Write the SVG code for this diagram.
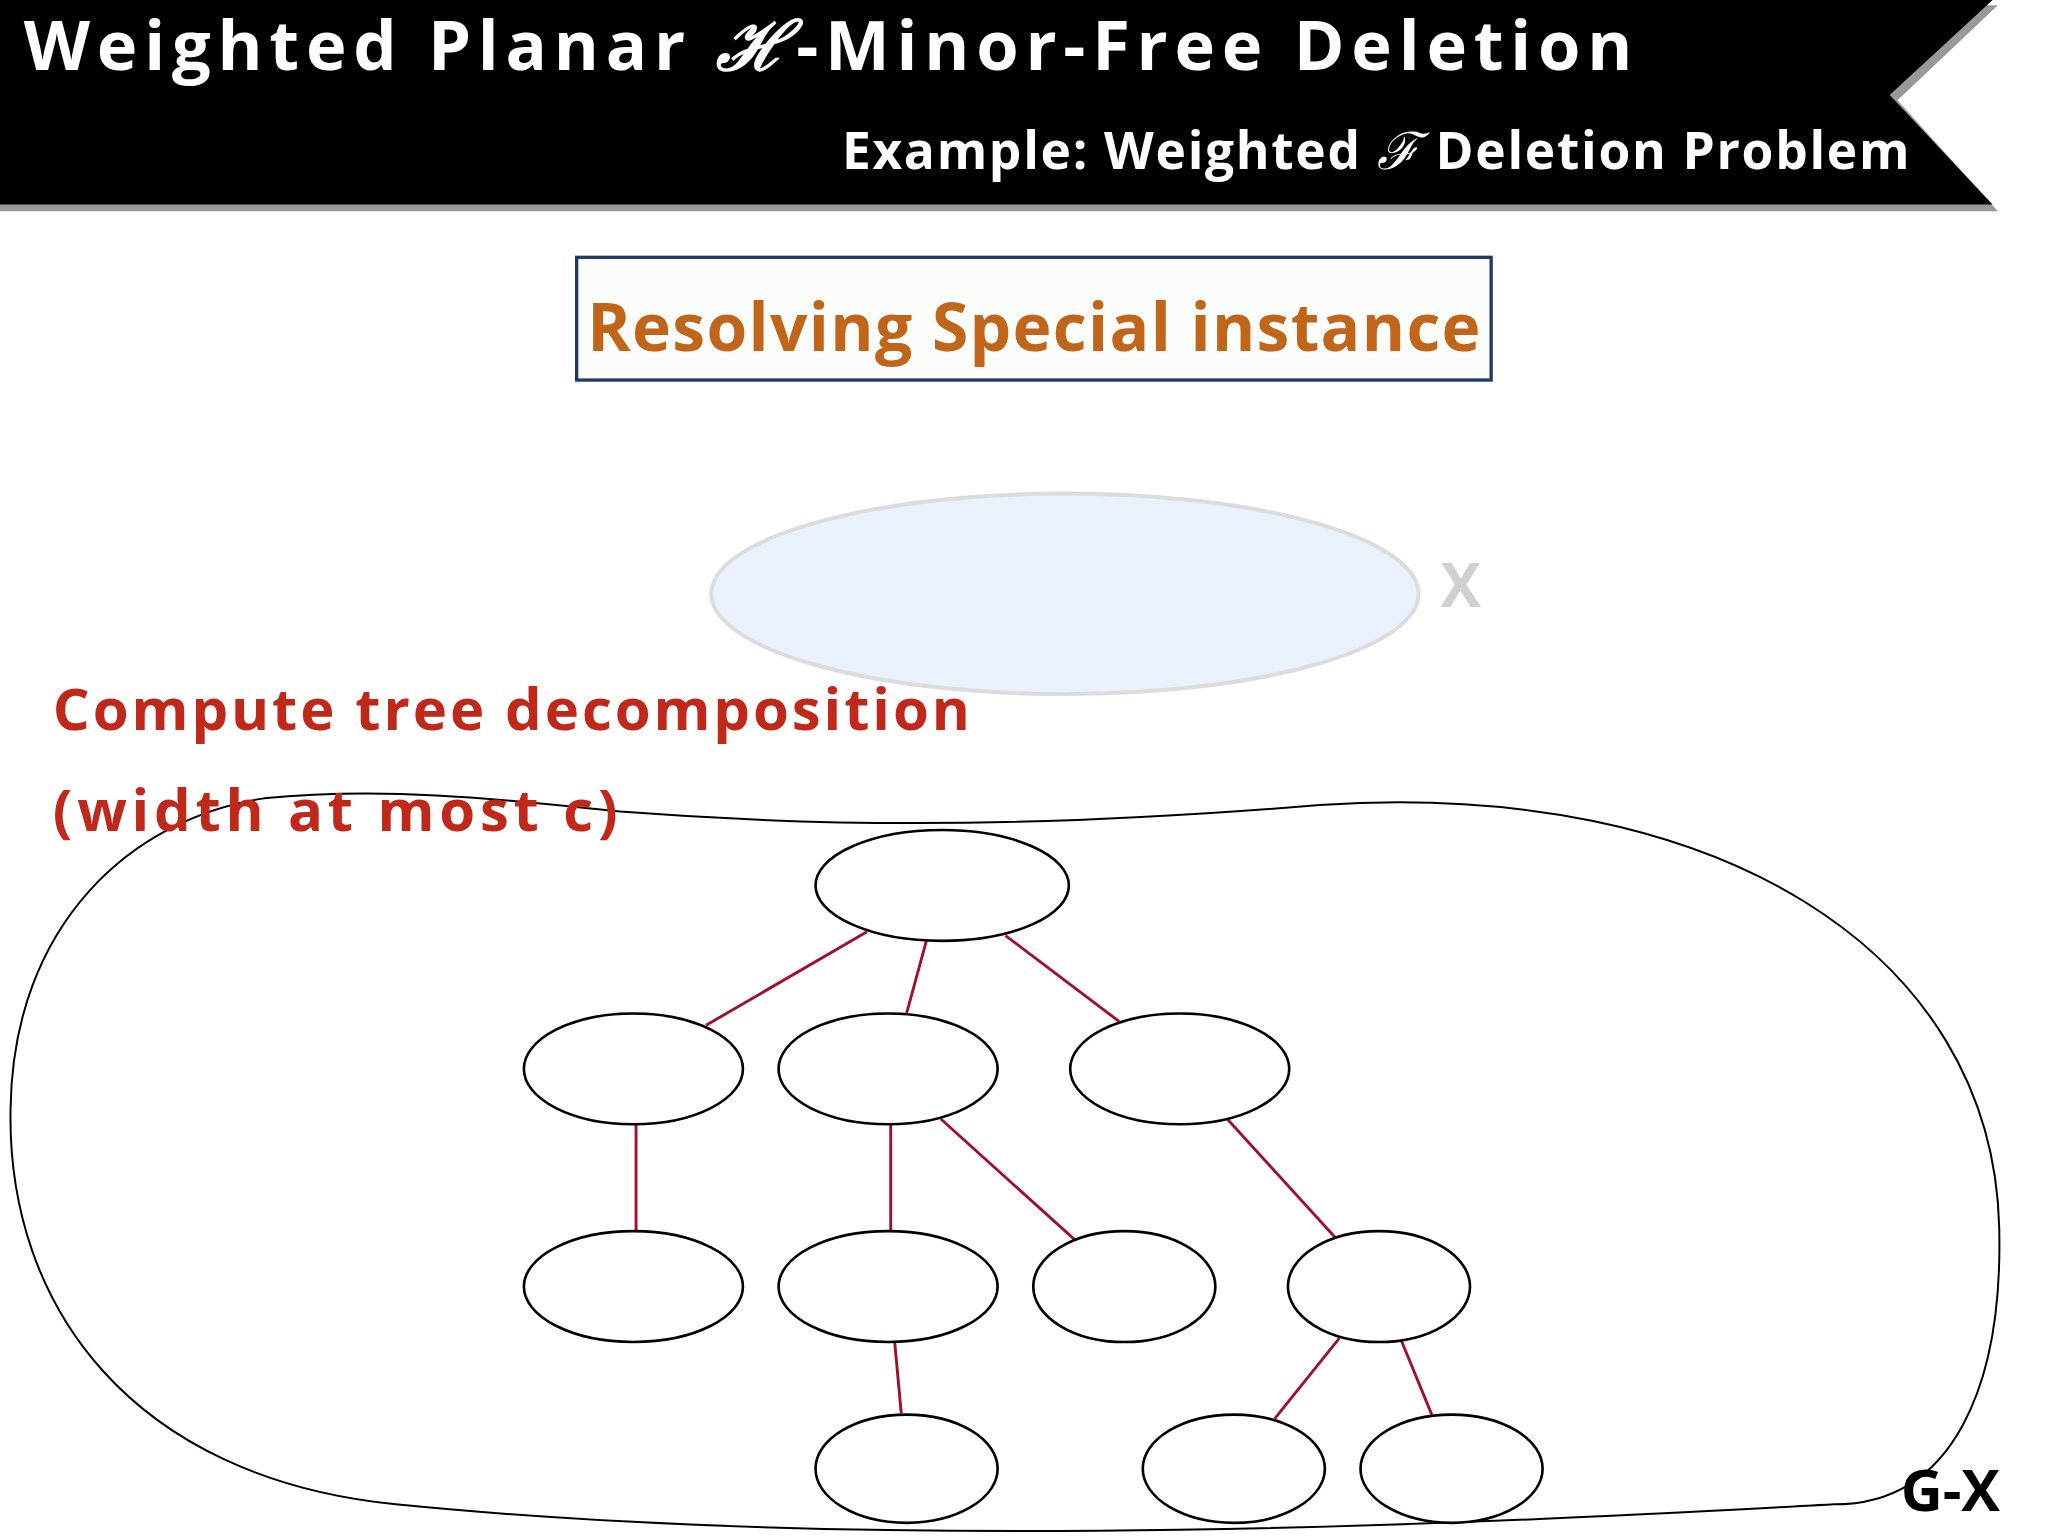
<svg xmlns="http://www.w3.org/2000/svg" width="2048" height="1536" viewBox="0 0 2048 1536">
<style>
.node{fill:#fff;stroke:#000;stroke-width:2}
.edge{stroke:#a0102a;stroke-width:2.2}
.t{font-family:"Open Sans","DejaVu Sans",sans-serif;font-weight:bold}
</style>
<rect width="2048" height="1536" fill="#fff"/>
<g transform="scale(1.3196)">
<g id="banner">
<polygon points="0,4 1514,4 1438,76 1514,160 0,160" fill="#999"/>
<polygon points="0,0 1510,0 1432,72 1510,155 0,155" fill="#000"/>
<text class="t" x="18" y="53" font-size="52" fill="#fff" textLength="1219" lengthAdjust="spacing">Weighted Planar <tspan font-family="Liberation Serif,serif" font-style="italic">ℋ</tspan>-Minor-Free Deletion</text>
<text class="t" x="638" y="128" font-size="39" fill="#fff" textLength="809" lengthAdjust="spacing">Example: Weighted <tspan font-family="Liberation Serif,serif" font-style="italic" font-weight="normal">ℱ</tspan> Deletion Problem</text>
</g>
<g id="box">
<rect x="437" y="195" width="693" height="93" fill="#fbfdfb" stroke="#1f3864" stroke-width="2.5"/>
<text class="t" x="445" y="266" font-size="50" fill="#c0651a" textLength="677" lengthAdjust="spacing">Resolving Special instance</text>
</g>
<g id="X">
<ellipse cx="807" cy="450" rx="268" ry="76" fill="#e8f1fc" stroke="#dcdcdc" stroke-width="3"/>
<text class="t" x="1107" y="460" font-size="46" fill="#d0d0d0" text-anchor="middle">X</text>
</g>
<g id="GX">
<path d="M470,615 C600,625 760,630 1000,610 C1300,590 1510,720 1515,930 C1518,1050 1480,1140 1390,1140 C1200,1150 700,1180 300,1140 C100,1120 5,990 8,840 C10,700 100,620 200,605 C300,595 400,608 470,615 Z" fill="none" stroke="#000" stroke-width="1.5"/>
<text class="t" x="1478" y="1145" font-size="44" fill="#000" text-anchor="middle">G-X</text>
</g>
<g id="label" class="t" font-size="44" fill="#c0281a" font-weight="normal">
<text x="40" y="553" textLength="695" lengthAdjust="spacing">Compute tree decomposition</text>
<text x="40" y="630" textLength="428" lengthAdjust="spacing">(width at most c)</text>
</g>
<g id="edges">
<line class="edge" x1="657" y1="706" x2="535" y2="777"/>
<line class="edge" x1="702" y1="713" x2="687" y2="768"/>
<line class="edge" x1="762" y1="709" x2="848" y2="774"/>
<line class="edge" x1="482" y1="852" x2="482" y2="933"/>
<line class="edge" x1="675" y1="852" x2="675" y2="933"/>
<line class="edge" x1="713" y1="848" x2="815" y2="940"/>
<line class="edge" x1="930" y1="848" x2="1012" y2="938"/>
<line class="edge" x1="678" y1="1017" x2="683" y2="1071"/>
<line class="edge" x1="1015" y1="1014" x2="966" y2="1075"/>
<line class="edge" x1="1062" y1="1016" x2="1085" y2="1072"/>
</g>
<g id="n1"><ellipse class="node" cx="714" cy="671" rx="96" ry="42"/></g>
<g id="n2"><ellipse class="node" cx="480" cy="810" rx="83" ry="42"/></g>
<g id="n3"><ellipse class="node" cx="673" cy="810" rx="83" ry="42"/></g>
<g id="n4"><ellipse class="node" cx="894" cy="810" rx="83" ry="42"/></g>
<g id="n5"><ellipse class="node" cx="480" cy="975" rx="83" ry="42"/></g>
<g id="n6"><ellipse class="node" cx="673" cy="975" rx="83" ry="42"/></g>
<g id="n7"><ellipse class="node" cx="852" cy="975" rx="69" ry="42"/></g>
<g id="n8"><ellipse class="node" cx="1045" cy="975" rx="69" ry="42"/></g>
<g id="n9"><ellipse class="node" cx="687" cy="1113" rx="69" ry="41"/></g>
<g id="n10"><ellipse class="node" cx="935" cy="1113" rx="69" ry="41"/></g>
<g id="n11"><ellipse class="node" cx="1100" cy="1113" rx="69" ry="41"/></g>
</g>
</svg>
